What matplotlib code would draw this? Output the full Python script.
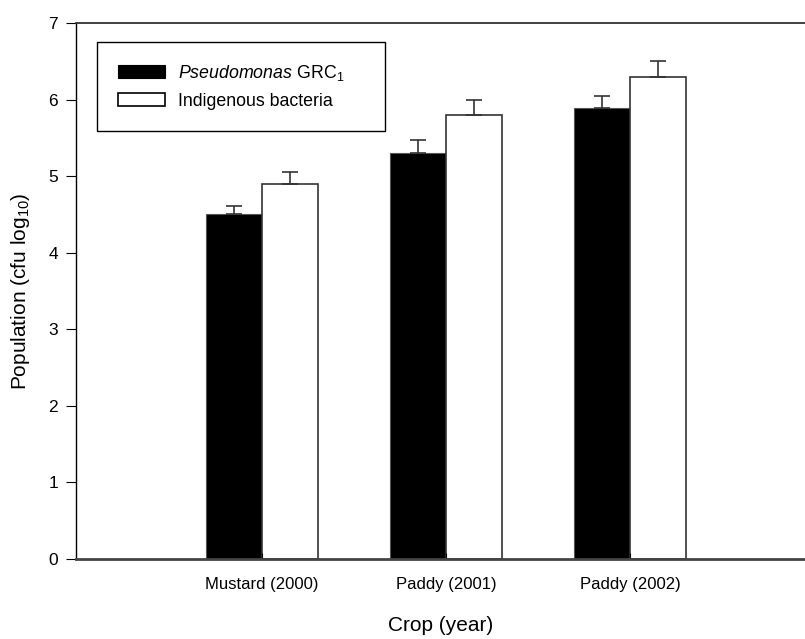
import matplotlib
matplotlib.use("Agg")
import matplotlib.pyplot as plt
import numpy as np

plt.rcParams['font.family'] = ['Liberation Sans', 'DejaVu Sans']
plt.rcParams['mathtext.fontset'] = 'custom'
plt.rcParams['mathtext.rm'] = 'Liberation Sans'
plt.rcParams['mathtext.it'] = 'Liberation Sans:italic'

categories = ["Mustard (2000)", "Paddy (2001)", "Paddy (2002)"]
pseudomonas = [4.50, 5.30, 5.89]
pseudomonas_err = [0.11, 0.17, 0.16]
indigenous = [4.90, 5.80, 6.29]
indigenous_err = [0.15, 0.20, 0.22]
series_labels = [r"$\it{Pseudomonas}$ GRC$_1$", "Indigenous bacteria"]
yticks = [0, 1, 2, 3, 4, 5, 6, 7]

fig = plt.figure(figsize=(8.05, 6.39), dpi=100)
ax = fig.add_axes([0.0944, 0.1252, 0.9056, 0.8388])

x = np.arange(len(categories))
w = 0.304
ekw = dict(ecolor='#333333', elinewidth=1.2, capthick=1.2)
ax.bar(x - w / 2, pseudomonas, w, color='black', edgecolor='#555555', linewidth=0.8,
       yerr=[np.zeros(3), pseudomonas_err], capsize=6, error_kw=ekw,
       label=series_labels[0])
ax.bar(x + w / 2, indigenous, w, color='white', edgecolor='#333333', linewidth=1.2,
       yerr=[np.zeros(3), indigenous_err], capsize=6, error_kw=ekw,
       label=series_labels[1])

ax.set_xlim(-1.011, 2.951)
ax.set_ylim(0, 7)
ax.set_yticks(yticks)
ax.set_xticks(x)
ax.set_xticklabels(categories, fontsize=12)
ax.tick_params(axis='x', direction='in', length=4, pad=13)
ax.tick_params(axis='y', direction='out', length=7, labelsize=12.5, pad=6)

ax.spines['right'].set_visible(False)
ax.spines['top'].set_linewidth(1.3)
ax.spines['top'].set_color('#333333')
ax.spines['left'].set_linewidth(1.0)
ax.spines['bottom'].set_linewidth(2.0)
ax.spines['bottom'].set_color('#444444')

ax.set_xlabel("Crop (year)", fontsize=15, labelpad=17)
ax.set_ylabel("Population (cfu log$_{10}$)", fontsize=15, labelpad=12)

leg = ax.legend(loc='upper left', bbox_to_anchor=(0.029, 0.795, 0.395, 0.17),
                mode='expand', fontsize=12.8,
                frameon=True, fancybox=False, edgecolor='black', framealpha=1,
                handlelength=2.6, handleheight=0.75, labelspacing=0.55,
                borderpad=1.2, handletextpad=0.75, borderaxespad=0)
leg.get_frame().set_linewidth(1.0)
for h in leg.legend_handles:
    h.set_edgecolor('black')

fig.savefig("out.png", dpi=100)
